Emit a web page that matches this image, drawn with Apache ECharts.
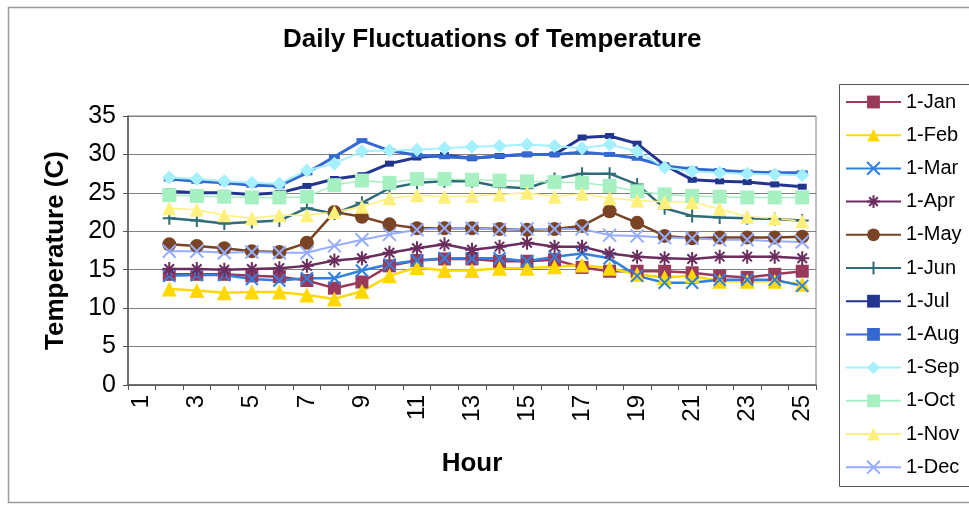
<!DOCTYPE html>
<html>
<head>
<meta charset="utf-8">
<script src="https://cdn.jsdelivr.net/npm/echarts@6/dist/echarts.min.js"></script>
<style>
html,body{margin:0;padding:0;background:#fff;}
#chart{width:969px;height:506px;}
</style>
</head>
<body>
<div id="chart"></div>
<script>
// Categories (hours)
var hours = ['1','2','3','4','5','6','7','8','9','10','11','12','13','14','15','16','17','18','19','20','21','22','23','24','25'];
// Y-axis ticks
var yTicks = [0,5,10,15,20,25,30,35];
// Series values for hours 2..25 (hour 1 has no data)
var jan = [14.4,14.4,14.4,14.2,14.1,13.6,12.6,13.4,15.5,16.2,16.4,16.4,16.1,16.1,16.3,15.3,14.8,14.8,14.8,14.6,14.2,14.0,14.4,14.8];
var feb = [12.5,12.3,12.0,12.1,12.1,11.7,11.2,12.2,14.2,15.3,14.9,14.9,15.2,15.2,15.4,15.6,15.2,14.4,14.0,14.2,13.5,13.5,13.5,13.1];
var mar = [14.2,14.3,14.3,13.8,13.6,13.9,13.9,14.9,15.7,16.2,16.5,16.5,16.5,16.1,16.7,17.1,16.5,14.2,13.3,13.3,13.7,13.7,13.7,12.9];
var apr = [15.1,15.1,15.0,15.1,15.2,15.5,16.2,16.5,17.2,17.8,18.3,17.6,18.0,18.5,18.0,18.0,17.1,16.7,16.5,16.4,16.7,16.7,16.7,16.5];
var may = [18.3,18.1,17.8,17.4,17.3,18.5,22.5,21.9,20.9,20.4,20.4,20.4,20.3,20.2,20.3,20.7,22.6,21.1,19.4,19.1,19.2,19.2,19.2,19.3];
var jun = [21.7,21.4,21.0,21.2,21.4,23.0,22.3,23.7,25.6,26.3,26.5,26.5,25.8,25.6,26.8,27.5,27.5,26.1,23.0,22.0,21.8,21.7,21.6,21.4];
var jul = [25.2,25.0,25.0,24.8,25.0,25.9,26.8,27.3,28.8,29.6,29.9,29.5,29.8,30.0,30.0,32.2,32.4,31.4,28.6,26.7,26.5,26.4,26.1,25.8];
var aug = [26.8,26.5,26.3,26.0,25.9,27.6,29.7,31.8,30.5,29.9,29.7,29.5,29.8,30.0,30.0,30.3,30.0,29.5,28.5,28.1,27.9,27.7,27.6,27.6];
var sep = [27.0,26.8,26.5,26.3,26.2,27.9,28.8,30.4,30.5,30.6,30.8,31.0,31.1,31.3,31.1,30.8,31.3,30.4,28.3,27.8,27.6,27.5,27.4,27.3];
var oct = [24.7,24.6,24.5,24.4,24.4,24.5,26.0,26.6,26.3,26.8,26.8,26.7,26.6,26.5,26.4,26.3,25.9,25.2,24.8,24.6,24.5,24.4,24.4,24.4];
var nov = [23.0,22.8,22.1,21.7,22.1,22.1,22.5,23.2,24.3,24.7,24.5,24.6,24.8,25.0,24.5,24.9,24.3,24.0,23.8,23.8,22.9,21.9,21.7,21.3];
var dec = [17.4,17.4,17.2,17.3,17.2,17.2,18.1,18.9,19.6,20.2,20.4,20.4,20.2,20.3,20.3,20.3,19.5,19.4,19.2,19.1,18.9,18.9,18.7,18.6];
var seriesNames = ['1-Jan','1-Feb','1-Mar','1-Apr','1-May','1-Jun','1-Jul','1-Aug','1-Sep','1-Oct','1-Nov','1-Dec'];
var seriesValues = [jan,feb,mar,apr,may,jun,jul,aug,sep,oct,nov,dec];

var X_PATH = 'path://M0,0L10,10M10,0L0,10';
var AST_PATH = 'path://M5,0L5,10M0,5L10,5M1.6,1.6L8.4,8.4M8.4,1.6L1.6,8.4';
var PLUS_PATH = 'path://M5,0L5,10M0,5L10,5';

var styles = [
  {color:'#993a5c', symbol:'rect', size:13, lw:2.5, stroke:false},
  {color:'#ffd800', symbol:'triangle', size:15, lw:2.5, stroke:false},
  {color:'#2f80e0', symbol:X_PATH, size:12, lw:2.5, stroke:true},
  {color:'#6a2d5e', symbol:AST_PATH, size:14, lw:2.5, stroke:true},
  {color:'#7a4424', symbol:'circle', size:14, lw:2.5, stroke:false},
  {color:'#2f6b78', symbol:PLUS_PATH, size:13, lw:2.5, stroke:true},
  {color:'#223690', symbol:'rect', size:[9,6], lw:3, stroke:false},
  {color:'#3569d2', symbol:'rect', size:[11,5], lw:3, stroke:false},
  {color:'#a4f0ff', symbol:'diamond', size:14, lw:2, stroke:false},
  {color:'#a6f0c2', symbol:'rect', size:14, lw:1.5, stroke:false},
  {color:'#fff07c', symbol:'triangle', size:14, lw:1.5, stroke:false},
  {color:'#94acff', symbol:X_PATH, size:13, lw:2, stroke:true}
];

var series = seriesNames.map(function(name, i){
  var s = styles[i];
  return {
    name: name,
    type: 'line',
    data: [null].concat(seriesValues[i]),
    symbol: s.symbol,
    symbolSize: s.size,
    showAllSymbol: true,
    connectNulls: false,
    lineStyle: {color: s.color, width: s.lw},
    itemStyle: s.stroke ? {color: s.color, borderColor: s.color, borderWidth: 2} : {color: s.color, borderWidth: 0},
    emphasis: {disabled: true}
  };
});

var chart = echarts.init(document.getElementById('chart'), null, {renderer:'canvas'});
chart.setOption({
  animation: false,
  backgroundColor: '#ffffff',
  textStyle: {fontFamily: 'Liberation Sans, Arial, sans-serif'},
  title: {
    text: 'Daily Fluctuations of Temperature',
    left: 283, top: 27, padding: 0,
    textStyle: {fontFamily: 'Liberation Sans, Arial, sans-serif', fontSize: 26, fontWeight: 'bold', color: '#000'}
  },
  legend: {
    orient: 'vertical',
    left: 845, top: 92, padding: 0,
    itemWidth: 55, itemHeight: 16, itemGap: 13.2,
    data: seriesNames,
    textStyle: {fontFamily: 'Liberation Sans, Arial, sans-serif', fontSize: 20, lineHeight: 20, color: '#000'}
  },
  grid: {
    left: 128, right: 153, top: 116, bottom: 121,
    show: true, borderColor: '#808080', borderWidth: 1
  },
  xAxis: {
    type: 'category',
    data: hours,
    boundaryGap: true,
    name: 'Hour',
    nameLocation: 'middle',
    nameGap: 66,
    nameTextStyle: {fontFamily: 'Liberation Sans, Arial, sans-serif', fontSize: 26, fontWeight: 'bold', color: '#000'},
    axisLine: {show: true, lineStyle: {color: '#555', width: 1.5}},
    axisTick: {show: true, interval: 0, length: 5, inside: false, lineStyle: {color: '#555'}},
    axisLabel: {interval: 1, rotate: 90, fontSize: 24, margin: 10, color: '#000'},
    splitLine: {show: false}
  },
  yAxis: {
    type: 'value',
    min: yTicks[0], max: yTicks[yTicks.length-1], interval: 5,
    name: 'Temperature (C)',
    nameLocation: 'middle',
    nameGap: 59,
    nameRotate: 90,
    nameTextStyle: {fontFamily: 'Liberation Sans, Arial, sans-serif', fontSize: 26, fontWeight: 'bold', color: '#000'},
    axisLine: {show: true, lineStyle: {color: '#555', width: 1.5}},
    axisTick: {show: true, length: 5, inside: false, lineStyle: {color: '#555'}},
    axisLabel: {fontSize: 25, margin: 12, color: '#000'},
    splitLine: {show: true, lineStyle: {color: '#808080', width: 1}}
  },
  graphic: [
    {type: 'rect', shape: {x: 8.5, y: 7.5, width: 975, height: 495}, style: {fill: 'none', stroke: '#9a9a9a', lineWidth: 1.5}, silent: true, z: -1},
    {type: 'rect', shape: {x: 839.5, y: 84.5, width: 140, height: 402}, style: {fill: 'none', stroke: '#555', lineWidth: 1}, silent: true, z: -1}
  ],
  series: series
});
</script>
</body>
</html>
